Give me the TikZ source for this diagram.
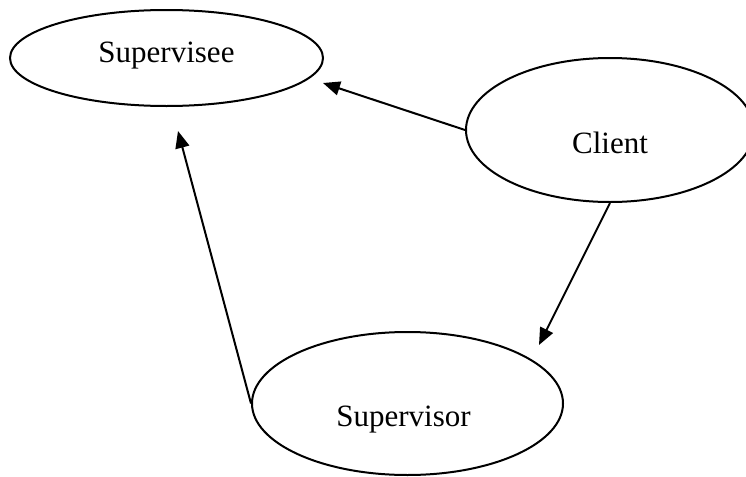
\documentclass[tikz,border=0pt]{standalone}
\usepackage{fontspec}
\setmainfont{Liberation Serif}
\usetikzlibrary{arrows.meta,shapes.geometric}
\tikzset{
  role/.style={
    ellipse,
    draw,
    line width=1pt,
    inner sep=0pt
  },
  role text/.style={
    font=\fontsize{15.5}{18}\selectfont
  },
  arrow/.style={
    -{Triangle[length=8.5pt,width=7pt]},
    line width=1pt
  }
}

\begin{document}
\begin{tikzpicture}[x=0.5pt, y=-0.5pt]
  \useasboundingbox (0,0) rectangle (746,477);

  % Roles
  \node[role, minimum width=156.5pt, minimum height=48pt,
        label={[role text, yshift=1.1pt]center:Supervisee}] (supervisee) at (166.5,58) {};
  \node[role, minimum width=144pt, minimum height=72pt,
        label={[role text, yshift=-6.2pt]center:Client}] (client) at (610,130) {};
  \node[role, minimum width=155.5pt, minimum height=71.5pt,
        label={[role text, xshift=-2pt, yshift=-8.2pt]center:Supervisor}] (supervisor) at (407.5,403.5) {};

  % Arrow tips (free ends)
  \coordinate (seetip) at (323,83);
  \coordinate (visortip) at (539,345);
  \coordinate (seetipb) at (178,131);

  % Flows
  \draw[arrow] (client.west) -- (seetip);
  \draw[arrow] (client.south) -- (visortip);
  \draw[arrow] (supervisor.west) -- (seetipb);

\end{tikzpicture}
\end{document}
